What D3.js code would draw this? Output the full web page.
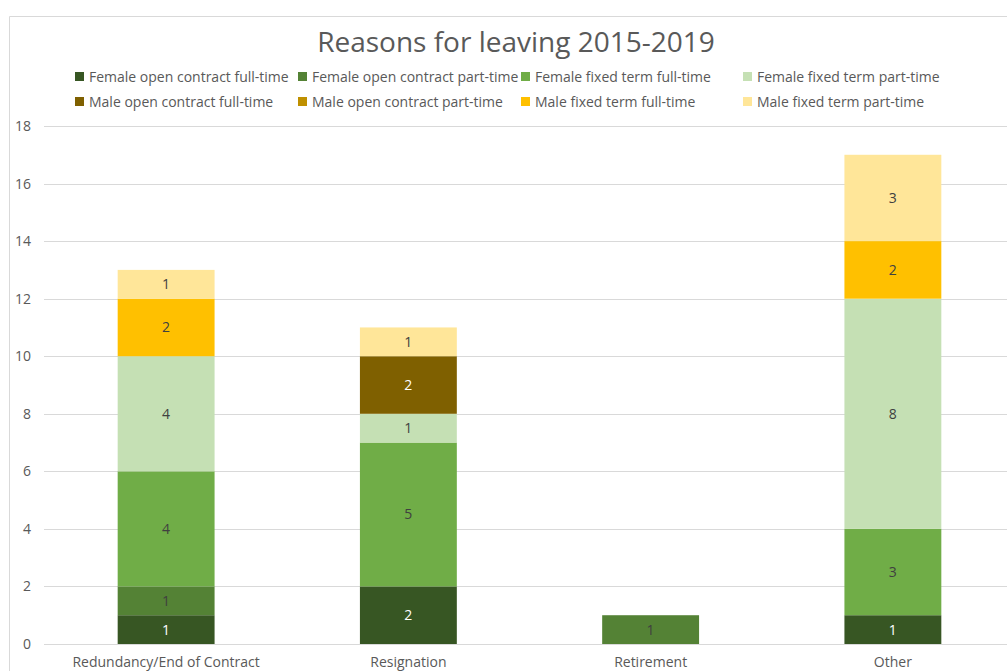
<!DOCTYPE html>
<html>
<head>
<meta charset="utf-8">
<script src="https://cdn.jsdelivr.net/npm/d3@7"></script>
<style>
  body { margin: 0; background: #fff; }
  svg text { font-family: "Open Sans", "Noto Sans", sans-serif; }
</style>
</head>
<body>
<svg id="chart" width="1007" height="671"></svg>
<script>
// categories and series
const categories = ['Redundancy/End of Contract', 'Resignation', 'Retirement', 'Other'];
const seriesNames = [
    'Female open contract full-time', 'Female open contract part-time',
    'Female fixed term full-time', 'Female fixed term part-time',
    'Male open contract full-time', 'Male open contract part-time',
    'Male fixed term full-time', 'Male fixed term part-time'
];
const seriesColors = ['#375623', '#548235', '#70ad47', '#c5e0b4', '#7f6000', '#bf9000', '#ffc000', '#ffe699'];
// values per series, one per category
const femaleOpenFull = [1, 2, 0, 1];
const femaleOpenPart = [1, 0, 1, 0];
const femaleFixedFull = [4, 5, 0, 3];
const femaleFixedPart = [4, 1, 0, 8];
const maleOpenFull = [0, 2, 0, 0];
const maleOpenPart = [0, 0, 0, 0];
const maleFixedFull = [2, 0, 0, 2];
const maleFixedPart = [1, 1, 0, 3];
const yTicks = [0, 2, 4, 6, 8, 10, 12, 14, 16, 18];

const seriesValues = [femaleOpenFull, femaleOpenPart, femaleFixedFull, femaleFixedPart,
    maleOpenFull, maleOpenPart, maleFixedFull, maleFixedPart];

const rows = categories.map((c, i) => {
    const r = {category: c};
    seriesNames.forEach((s, j) => r[s] = seriesValues[j][i]);
    return r;
});

const svg = d3.select('#chart');

// chart area border (cropped on the right/bottom)
svg.append('path')
    .attr('d', 'M9.5,680 V16.5 H1007')
    .attr('fill', 'none')
    .attr('stroke', '#d9d9d9')
    .attr('stroke-width', 1);

svg.append('text')
    .attr('x', 516)
    .attr('y', 52)
    .attr('text-anchor', 'middle')
    .attr('fill', '#595959')
    .style('font-size', '28px')
    .text('Reasons for leaving 2015-2019');

// legend
const legendCols = [75, 298, 521, 743];
const legendRows = [77, 102];
const legend = svg.append('g');
seriesNames.forEach((s, i) => {
    const lx = legendCols[i % 4], ly = legendRows[Math.floor(i / 4)];
    const g = legend.append('g').attr('transform', `translate(${lx},${ly})`);
    g.append('rect').attr('x', 0).attr('y', -5).attr('width', 9).attr('height', 9).attr('fill', seriesColors[i]);
    g.append('text').attr('x', 14).attr('y', 0).attr('dy', '0.35em')
        .attr('fill', '#595959').style('font-size', '14px').text(s);
});

const x = d3.scaleBand().domain(categories).range([45, 1014]).paddingInner(0.6).paddingOuter(0.3);
const y = d3.scaleLinear().domain([0, 18]).range([644, 126]);

// gridlines
svg.append('g')
    .selectAll('line')
    .data(yTicks)
    .enter()
    .append('line')
    .attr('x1', 44)
    .attr('x2', 1007)
    .attr('y1', d => Math.round(y(d)) + 0.5)
    .attr('y2', d => Math.round(y(d)) + 0.5)
    .attr('stroke', '#d9d9d9')
    .attr('stroke-width', 1);

// y axis labels
const yAxis = svg.append('g')
    .attr('transform', 'translate(31,0)')
    .call(d3.axisLeft(y).tickValues(yTicks).tickSize(0).tickPadding(0));
yAxis.select('.domain').remove();
yAxis.selectAll('text')
    .attr('fill', '#595959')
    .style('font-size', '14px')
    .style('font-family', '"Open Sans", "Noto Sans", sans-serif');

// x axis labels
const xAxis = svg.append('g')
    .attr('transform', 'translate(0,644)')
    .call(d3.axisBottom(x).tickSize(0).tickPadding(13));
xAxis.select('.domain').remove();
xAxis.selectAll('text')
    .attr('fill', '#595959')
    .style('font-size', '14px')
    .style('font-family', '"Open Sans", "Noto Sans", sans-serif');

// stacked bars
const stack = d3.stack().keys(seriesNames);
const layers = stack(rows);
const darkSeries = [0, 4];

const layer = svg.append('g')
    .selectAll('g')
    .data(layers)
    .enter()
    .append('g')
    .attr('fill', (d, i) => seriesColors[i]);

layer.selectAll('rect')
    .data(d => d.map(p => ({p: p, cat: p.data.category})))
    .enter()
    .filter(d => d.p[1] - d.p[0] > 0)
    .append('rect')
    .attr('x', d => x(d.cat))
    .attr('width', x.bandwidth())
    .attr('y', d => y(d.p[1]))
    .attr('height', d => y(d.p[0]) - y(d.p[1]));

layer.each(function (ld, i) {
    d3.select(this).selectAll('text')
        .data(ld.filter(p => p[1] - p[0] > 0))
        .enter()
        .append('text')
        .attr('x', p => x(p.data.category) + x.bandwidth() / 2)
        .attr('y', p => y((p[0] + p[1]) / 2))
        .attr('dy', '0.35em')
        .attr('text-anchor', 'middle')
        .attr('fill', darkSeries.includes(i) ? '#ffffff' : '#404040')
        .style('font-size', '14px')
        .text(p => p[1] - p[0]);
});
</script>
</body>
</html>
